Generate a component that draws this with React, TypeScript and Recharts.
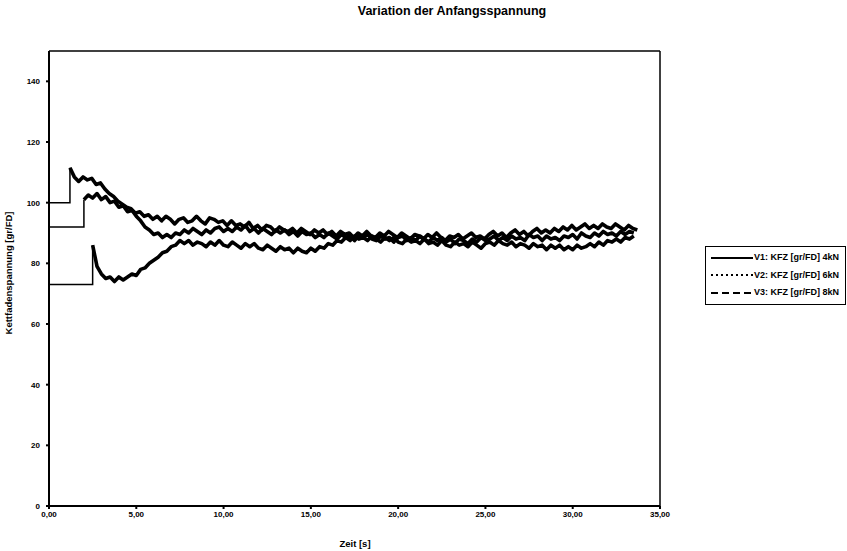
import React from 'react';
import { LineChart, Line, XAxis, YAxis, ReferenceLine, Label } from 'recharts';

const chartTitle = 'Variation der Anfangsspannung';
const xAxisTitle = 'Zeit [s]';
const yAxisTitle = 'Kettfadenspannung [gr/FD]';
const xTicks = [0, 5, 10, 15, 20, 25, 30, 35];
const yTicks = [0, 20, 40, 60, 80, 100, 120, 140];
const seriesNames = ['V1: KFZ [gr/FD] 4kN', 'V2: KFZ [gr/FD] 6kN', 'V3: KFZ [gr/FD] 8kN'];

const sampleStep = 0.25;

const v1Level = 100;
const v1JumpTime = 1.2;
const v1Values = [
  111.5,
  108.5, 107, 108.5, 107.5, 108, 106, 106.5, 104.5, 103, 102,
  100.5, 99.5, 98.5, 98, 96.5, 97, 95.5, 96, 94.5, 95.5,
  94, 95.5, 94.5, 93, 94.5, 95, 93.5, 94, 95.5, 94,
  93, 95, 94.5, 93.5, 94, 92.5, 94, 92.5, 93, 92,
  93.5, 91.5, 92.5, 91, 92.5, 92, 90.5, 92, 91, 90.5,
  91.5, 90, 91.5, 90.5, 89.5, 91, 90, 91, 89.5, 90.5,
  89, 90.5, 89.5, 90, 88.5, 90, 89, 90.5, 89, 88.5,
  90, 89, 90.5, 89.5, 88.5, 90, 89, 88, 89.5, 89,
  88, 89.5, 88.5, 90, 88.5, 87.5, 89, 88.5, 89.5, 88,
  89, 90, 88.5, 89, 88, 89.5, 90.5, 89, 90, 88.5,
  90, 91, 89.5, 90.5, 89, 90.5, 91.5, 90, 91, 90,
  91.5, 90.5, 92, 91, 92.5, 91, 92, 93, 91.5, 92.5,
  91.5, 93, 92, 91.5, 93, 92, 91, 92.5, 91.5, 91,
];

const v2Level = 92;
const v2JumpTime = 2.0;
const v2Values = [
  101,
  102.5, 101.5, 103, 101, 102, 100, 100.5, 98.5, 99, 97,
  97.5, 95.5, 94, 92, 91, 89.5, 90, 88.5, 89.5, 88.5,
  90, 89.5, 91, 90, 91.5, 90.5, 89.5, 91, 90, 91.5,
  92, 90.5, 91.5, 90.5, 92, 91, 92.5, 90.5, 91.5, 90,
  91.5, 90.5, 89.5, 91, 90, 91, 89.5, 90.5, 89, 90.5,
  89.5, 90, 88.5, 89.5, 88.5, 90, 89, 88, 89.5, 88.5,
  89, 87.5, 89, 88.5, 89.5, 88, 87.5, 89, 88, 88.5,
  87, 88.5, 89, 87.5, 88.5, 87.5, 89, 88, 87, 88.5,
  87.5, 88.5, 87, 88, 86.5, 88, 87.5, 86.5, 88, 87,
  88.5, 87.5, 88, 89, 87.5, 88.5, 87.5, 89, 88, 88.5,
  87.5, 89.5, 88.5, 89, 87.5, 89, 88, 88.5, 87.5, 89,
  88.5, 89.5, 88, 90, 89, 88.5, 90, 89, 90.5, 89.5,
  90, 89, 90.5, 89.5, 90.5, 90,
];

const v3Level = 73;
const v3JumpTime = 2.5;
const v3Values = [
  86,
  79, 76.5, 75, 75.5, 74, 75.5, 74.5, 75.5, 76.5, 76,
  78, 78.5, 80, 81, 82, 83.5, 84, 85.5, 86, 87.5,
  86.5, 87.5, 86, 87, 86.5, 85.5, 87, 86, 87.5, 86,
  85.5, 87, 86, 85, 86.5, 85.5, 86.5, 85, 84.5, 86,
  85, 84, 85.5, 84.5, 85, 83.5, 85, 84, 83.5, 85,
  84, 85.5, 85, 86.5, 86, 87.5, 87, 88.5, 87.5, 89,
  88, 88.5, 87.5, 89, 88, 87, 88.5, 87.5, 88.5, 87,
  86.5, 88, 87, 87.5, 86.5, 88, 86.5, 87, 86, 87.5,
  86, 85.5, 87, 86, 86.5, 85.5, 87, 86, 85, 86.5,
  87, 86, 87.5, 86.5, 86, 87, 85.5, 86.5, 86, 85,
  86.5, 85.5, 86, 84.5, 86, 85, 86, 84.5, 85.5, 84.5,
  86, 85, 85.5, 86.5, 85.5, 87, 86, 87.5, 87, 88,
  87, 88.5, 88, 89,
];

type Pt = { t: number; v: number };

const buildHead = (level: number, jump: number, values: number[]): Pt[] => [
  { t: 0, v: level },
  { t: jump, v: level },
  { t: jump, v: values[0] },
];

const buildBody = (jump: number, values: number[]): Pt[] =>
  values.map((v, i) => ({ t: Math.round((jump + i * sampleStep) * 1000) / 1000, v }));

const series = [
  { name: seriesNames[0], head: buildHead(v1Level, v1JumpTime, v1Values), body: buildBody(v1JumpTime, v1Values), dash: undefined },
  { name: seriesNames[1], head: buildHead(v2Level, v2JumpTime, v2Values), body: buildBody(v2JumpTime, v2Values), dash: '2 3' },
  { name: seriesNames[2], head: buildHead(v3Level, v3JumpTime, v3Values), body: buildBody(v3JumpTime, v3Values), dash: '7 4' },
];

const FONT = '"Liberation Sans", Arial, sans-serif';

const fmtX = (v: number) => v.toFixed(2).replace('.', ',');

const LegendBox = () => (
  <div
    style={{
      position: 'absolute',
      left: 705,
      top: 246,
      width: 141,
      boxSizing: 'border-box',
      border: '1.5px solid #000',
      background: '#fff',
      padding: '2px 0 2px 5px',
      fontFamily: FONT,
      fontWeight: 700,
      fontSize: 9,
      color: '#000',
      lineHeight: '17.5px',
    }}
  >
    {series.map((s) => (
      <div key={s.name} style={{ display: 'flex', alignItems: 'center', whiteSpace: 'nowrap' }}>
        <svg width={42} height={8} style={{ marginRight: 1, flex: 'none' }}>
          <line x1={0} y1={4} x2={42} y2={4} stroke="#000" strokeWidth={2} strokeDasharray={s.dash} />
        </svg>
        <span>{s.name}</span>
      </div>
    ))}
  </div>
);

export default function App() {
  return (
    <div style={{ position: 'absolute', left: 0, top: 0, width: 847, height: 551, background: '#fff' }}>
      <div
        style={{
          position: 'absolute',
          left: 300,
          top: 4,
          width: 304,
          textAlign: 'center',
          fontFamily: FONT,
          fontWeight: 700,
          fontSize: 12.5,
          color: '#000',
          whiteSpace: 'nowrap',
        }}
      >
        {chartTitle}
      </div>
      <LineChart width={847} height={551} margin={{ top: 51, right: 187, left: 0, bottom: 0 }}>
        <XAxis
          type="number"
          dataKey="t"
          domain={[0, 35]}
          ticks={xTicks}
          tickFormatter={fmtX}
          allowDataOverflow
          height={45}
          stroke="#000"
          strokeWidth={2}
          tickSize={3}
          tickMargin={2}
          tick={{ fill: '#000', fontSize: 8, fontWeight: 700, fontFamily: FONT }}
        >
          <Label
            content={() => (
              <text x={355} y={547} textAnchor="middle" fontFamily={FONT} fontWeight={700} fontSize={9.5} fill="#000">
                {xAxisTitle}
              </text>
            )}
          />
        </XAxis>
        <YAxis
          type="number"
          dataKey="v"
          domain={[0, 150]}
          ticks={yTicks}
          allowDataOverflow
          width={49}
          stroke="#000"
          strokeWidth={2}
          tickSize={3}
          tickMargin={6}
          tick={{ fill: '#000', fontSize: 8, fontWeight: 700, fontFamily: FONT }}
        >
          <Label
            content={() => (
              <text
                x={12}
                y={273}
                transform="rotate(-90 12 273)"
                textAnchor="middle"
                fontFamily={FONT}
                fontWeight={700}
                fontSize={9.5}
                fill="#000"
              >
                {yAxisTitle}
              </text>
            )}
          />
        </YAxis>
        <ReferenceLine y={150} stroke="#000" strokeWidth={1.5} ifOverflow="visible" />
        <ReferenceLine x={35} stroke="#000" strokeWidth={1.5} ifOverflow="visible" />
        {series.map((s) => (
          <Line
            key={s.name + '-head'}
            data={s.head}
            dataKey="v"
            type="linear"
            stroke="#000"
            strokeWidth={1.5}
            dot={false}
            isAnimationActive={false}
            legendType="none"
          />
        ))}
        {series.map((s) => (
          <Line
            key={s.name + '-body'}
            data={s.body}
            dataKey="v"
            type="linear"
            stroke="#000"
            strokeWidth={3.6}
            strokeLinejoin="round"
            dot={false}
            isAnimationActive={false}
            legendType="none"
          />
        ))}
      </LineChart>
      <LegendBox />
    </div>
  );
}
